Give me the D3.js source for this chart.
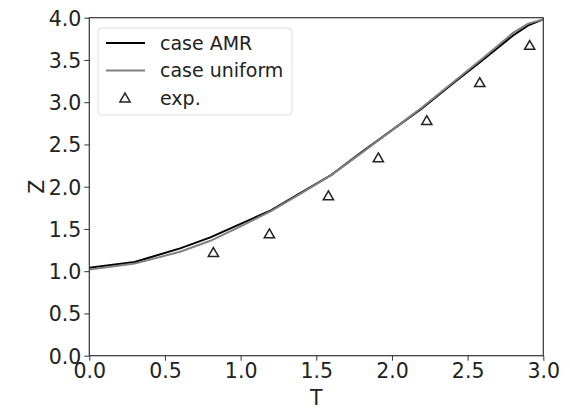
<!DOCTYPE html>
<html>
<head>
<meta charset="utf-8">
<script src="https://cdn.jsdelivr.net/npm/d3@7"></script>
<style>
  body { margin: 0; background: #fff; }
  text { font-family: "DejaVu Sans", sans-serif; fill: #222; }
</style>
</head>
<body>
<svg id="chart" width="570" height="409"></svg>
<script>
// data
let amrT = [0.0, 0.3, 0.6, 0.8, 1.0, 1.2, 1.4, 1.6, 1.8, 2.0, 2.2, 2.4, 2.6, 2.8, 2.9, 3.0];
let amrZ = [1.04, 1.11, 1.27, 1.40, 1.56, 1.72, 1.93, 2.14, 2.41, 2.67, 2.93, 3.22, 3.50, 3.79, 3.91, 3.98];
let uniT = [0.0, 0.3, 0.6, 0.8, 1.0, 1.2, 1.4, 1.6, 1.8, 2.0, 2.2, 2.4, 2.6, 2.8, 2.9, 3.0];
let uniZ = [1.02, 1.09, 1.23, 1.36, 1.53, 1.71, 1.92, 2.14, 2.40, 2.67, 2.94, 3.23, 3.52, 3.82, 3.93, 3.98];
let expT = [0.82, 1.19, 1.58, 1.91, 2.23, 2.58, 2.91];
let expZ = [1.21, 1.43, 1.88, 2.33, 2.77, 3.22, 3.66];
let xTicks = [0, 0.5, 1.0, 1.5, 2.0, 2.5, 3.0];
let yTicks = [0, 0.5, 1.0, 1.5, 2.0, 2.5, 3.0, 3.5, 4.0];

let svg = d3.select("#chart");
let mLeft = 89.3, mRight = 543.3, mTop = 17.7, mBottom = 355.7;

let x = d3.scaleLinear().domain([0, 3]).range([mLeft, mRight]);
let y = d3.scaleLinear().domain([0, 4]).range([mBottom, mTop]);

let line = d3.line()
    .x(function(d) { return x(d[0]); })
    .y(function(d) { return y(d[1]); });

let amr = amrT.map(function(t, i) { return [t, amrZ[i]]; });
let uni = uniT.map(function(t, i) { return [t, uniZ[i]]; });
let exp = expT.map(function(t, i) { return [t, expZ[i]]; });

// clip to the axes box
svg.append("clipPath").attr("id", "clip")
  .append("rect").attr("x", mLeft).attr("y", mTop)
  .attr("width", mRight - mLeft).attr("height", mBottom - mTop);

let plot = svg.append("g").attr("clip-path", "url(#clip)");

plot.append("path").datum(amr)
    .attr("d", line)
    .attr("fill", "none")
    .attr("stroke", "#000")
    .attr("stroke-width", 2);

plot.append("path").datum(uni)
    .attr("d", line)
    .attr("fill", "none")
    .attr("stroke", "#808080")
    .attr("stroke-width", 2);

let tri = d3.symbol().type(d3.symbolTriangle).size(45);

svg.append("g").selectAll("path")
    .data(exp)
    .enter().append("path")
    .attr("d", tri)
    .attr("transform", function(d) { return "translate(" + x(d[0]) + "," + y(d[1]) + ")"; })
    .attr("fill", "none")
    .attr("stroke", "#222")
    .attr("stroke-width", 1.5);

// axes
let xAxis = svg.append("g")
    .attr("transform", "translate(0," + mBottom + ")")
    .call(d3.axisBottom(x).tickValues(xTicks).tickFormat(d3.format(".1f")).tickSize(5).tickPadding(3));

let yAxis = svg.append("g")
    .attr("transform", "translate(" + mLeft + ",0)")
    .call(d3.axisLeft(y).tickValues(yTicks).tickFormat(d3.format(".1f")).tickSize(5).tickPadding(3));

[xAxis, yAxis].forEach(function(a) {
  a.select(".domain").remove();
  a.selectAll("line").attr("stroke", "#333").attr("stroke-width", 1);
  a.selectAll("text").attr("font-family", "DejaVu Sans").attr("font-size", 20.5).attr("fill", "#222");
});

yAxis.selectAll("text").attr("dy", "0.36em");

// frame
svg.append("rect")
    .attr("x", mLeft).attr("y", mTop)
    .attr("width", mRight - mLeft).attr("height", mBottom - mTop)
    .attr("fill", "none")
    .attr("stroke", "#333")
    .attr("stroke-width", 1.2);

// axis labels
svg.append("text")
    .attr("x", (mLeft + mRight) / 2).attr("y", 405)
    .attr("text-anchor", "middle")
    .attr("font-size", 20.5)
    .text("T");

svg.append("text")
    .attr("transform", "translate(44," + (mTop + mBottom) / 2 + ") rotate(-90)")
    .attr("text-anchor", "middle")
    .attr("font-size", 20.5)
    .text("Z");

// legend
let legend = svg.append("g");
legend.append("rect")
    .attr("x", 98).attr("y", 28)
    .attr("width", 194).attr("height", 87)
    .attr("rx", 4)
    .attr("fill", "#fff")
    .attr("fill-opacity", 0.8)
    .attr("stroke", "#ddd");

let items = [
  { label: "case AMR", kind: "line", color: "#000" },
  { label: "case uniform", kind: "line", color: "#808080" },
  { label: "exp.", kind: "tri", color: "#222" }
];

items.forEach(function(d, i) {
  let cy = 43 + i * 27.5;
  if (d.kind == "line") {
    legend.append("line")
        .attr("x1", 106).attr("x2", 145)
        .attr("y1", cy).attr("y2", cy)
        .attr("stroke", d.color)
        .attr("stroke-width", 2);
  } else {
    legend.append("path")
        .attr("d", tri)
        .attr("transform", "translate(125," + (cy + 1) + ")")
        .attr("fill", "none")
        .attr("stroke", d.color)
        .attr("stroke-width", 1.5);
  }
  legend.append("text")
      .attr("x", 160).attr("y", cy)
      .attr("dy", "0.36em")
      .attr("font-size", 19)
      .text(d.label);
});
</script>
</body>
</html>
